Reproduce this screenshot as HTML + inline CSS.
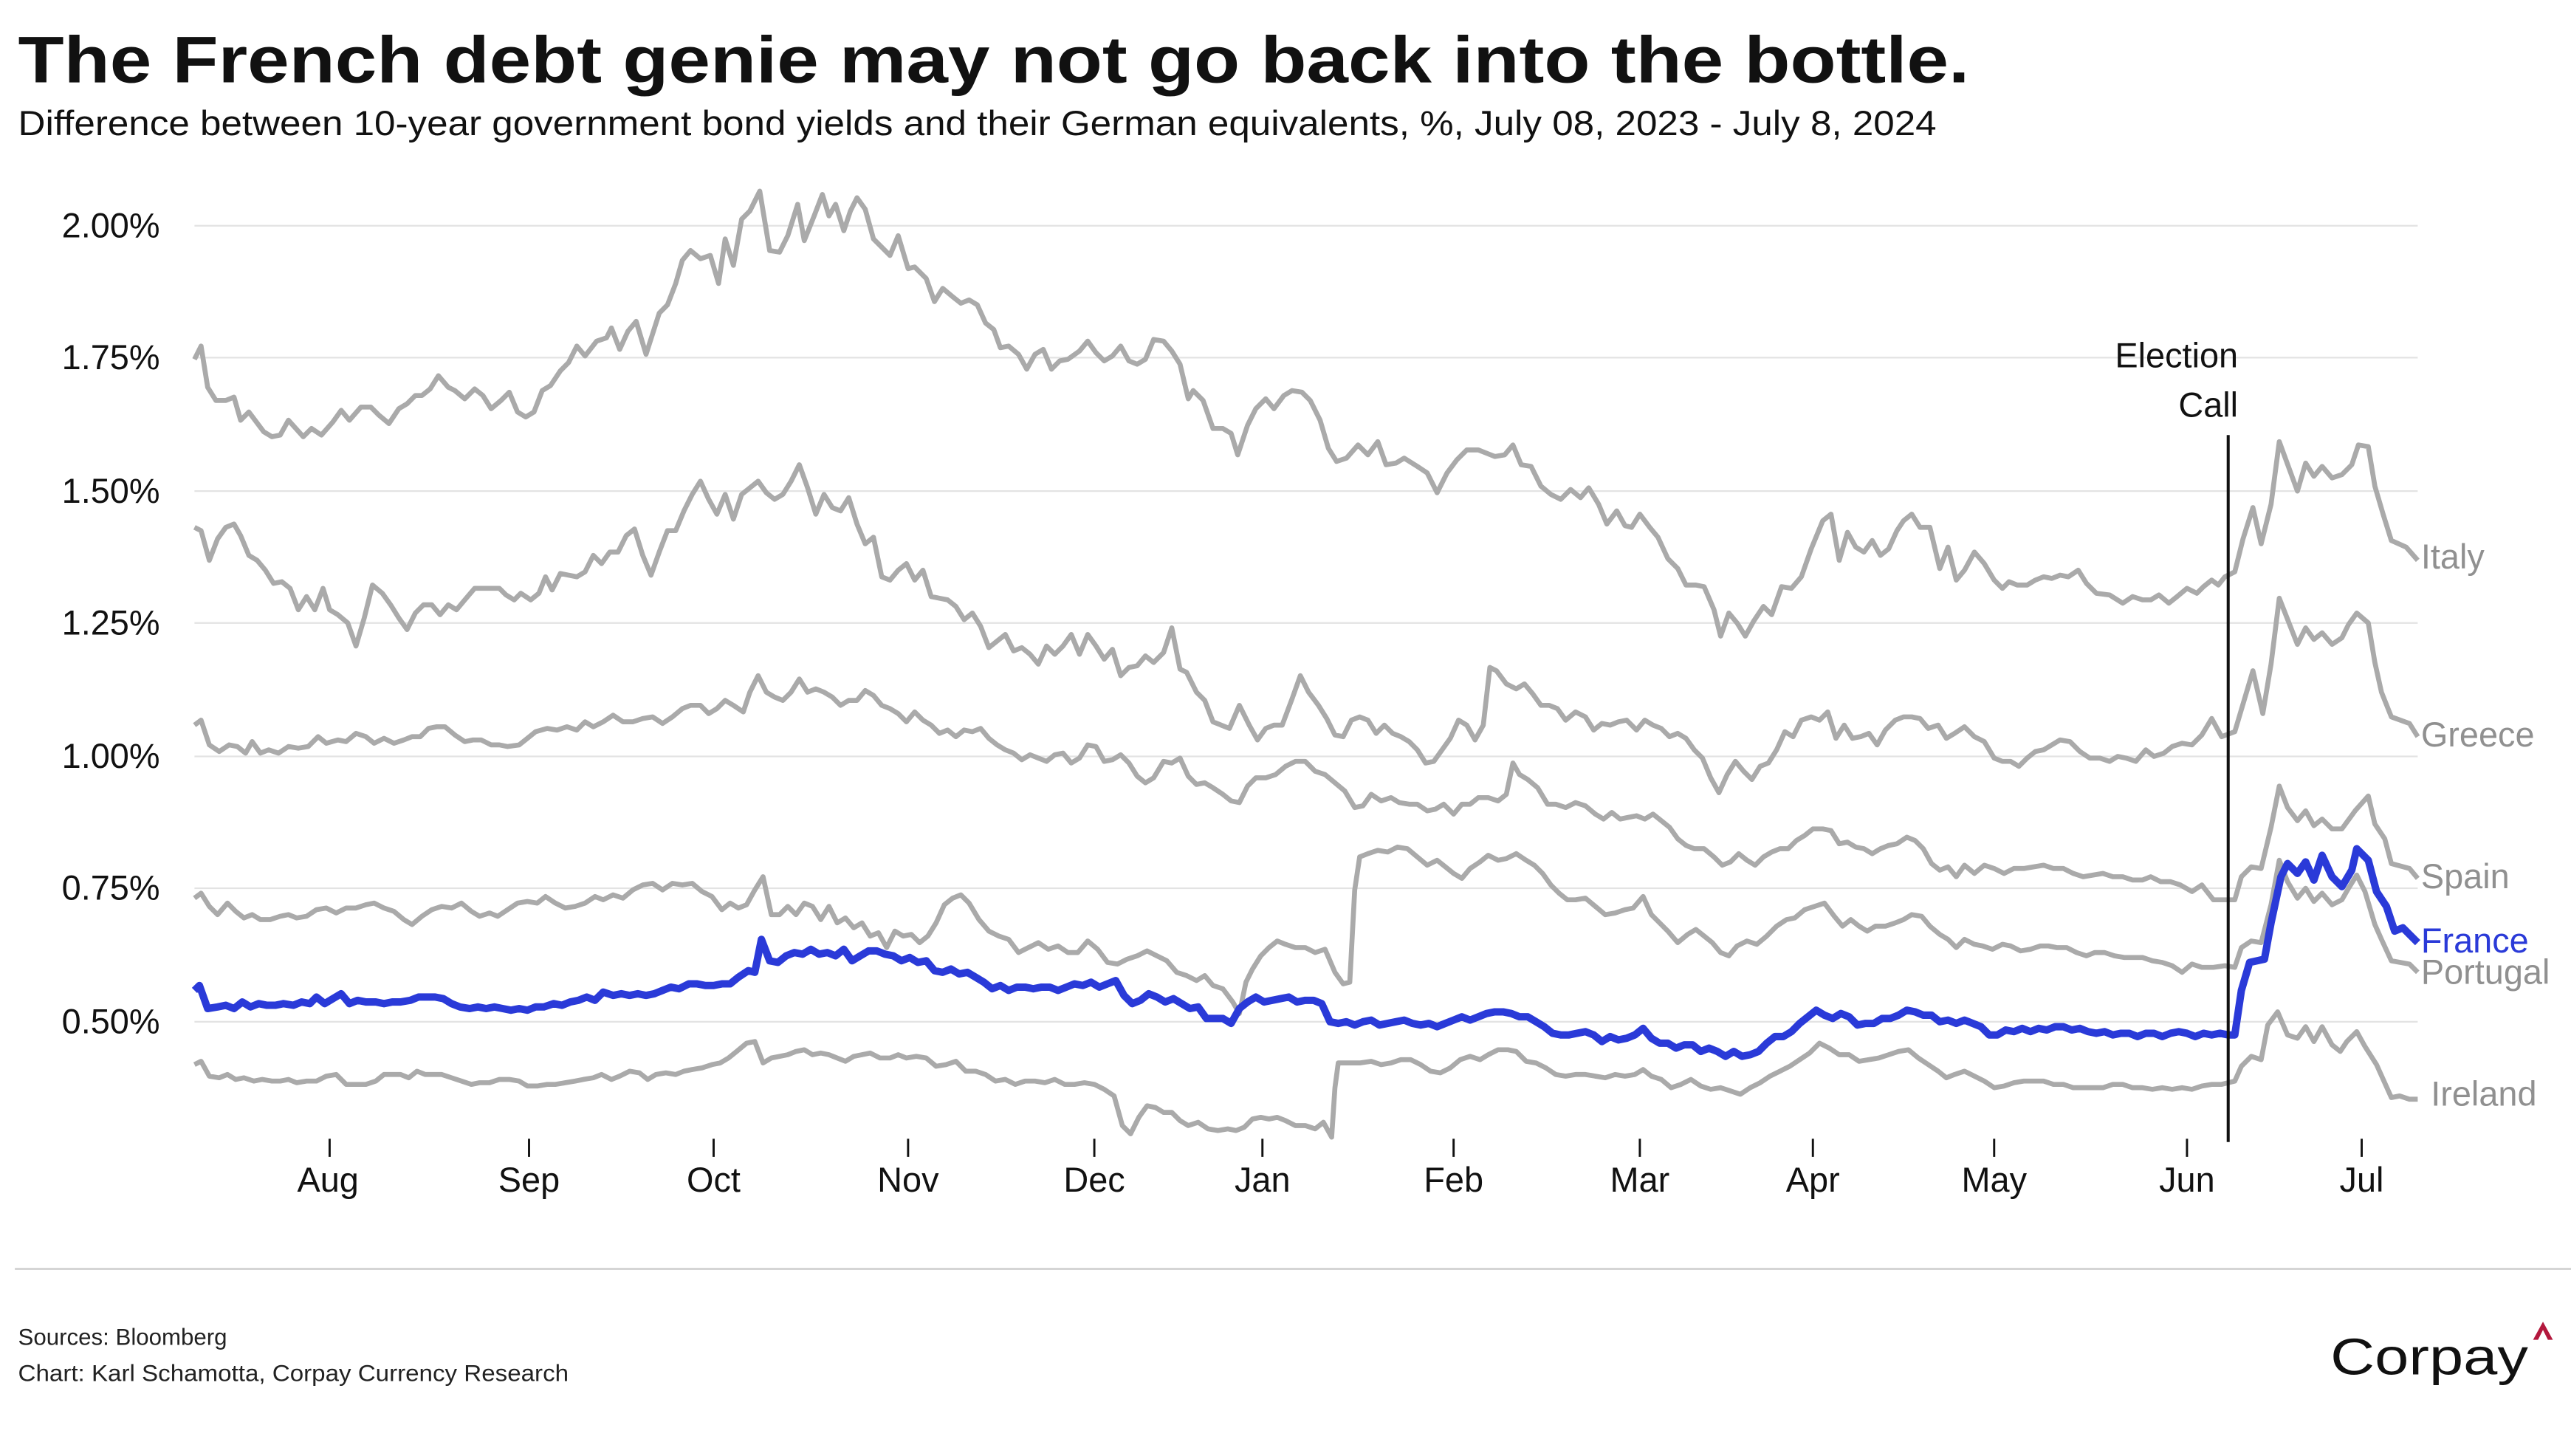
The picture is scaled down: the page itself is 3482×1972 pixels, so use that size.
<!DOCTYPE html>
<html><head><meta charset="utf-8"><style>
html,body{margin:0;padding:0;background:#fff}
svg{display:block}
text{font-family:"Liberation Sans",sans-serif}
</style></head><body>
<svg width="3482" height="1972" viewBox="0 0 1560 883.5" xmlns="http://www.w3.org/2000/svg">
<rect width="1560" height="883.5" fill="#fff"/>
<text x="11" y="50" font-size="40" font-weight="bold" fill="#111" textLength="1184" lengthAdjust="spacingAndGlyphs">The French debt genie may not go back into the bottle.</text>
<text x="11" y="82" font-size="21" fill="#111" textLength="1164" lengthAdjust="spacingAndGlyphs">Difference between 10-year government bond yields and their German equivalents, %, July 08, 2023 - July 8, 2024</text>
<g stroke="#e3e3e3" stroke-width="1">
<line x1="118" x2="1467" y1="137" y2="137"/><line x1="118" x2="1467" y1="217" y2="217"/><line x1="118" x2="1467" y1="298" y2="298"/><line x1="118" x2="1467" y1="378" y2="378"/><line x1="118" x2="1467" y1="459" y2="459"/><line x1="118" x2="1467" y1="539" y2="539"/><line x1="118" x2="1467" y1="620" y2="620"/>
</g>
<g font-size="21" fill="#111" text-anchor="end">
<text x="97" y="144">2.00%</text><text x="97" y="224">1.75%</text><text x="97" y="305">1.50%</text><text x="97" y="385">1.25%</text><text x="97" y="466">1.00%</text><text x="97" y="546">0.75%</text><text x="97" y="627">0.50%</text>
</g>
<g stroke="#111" stroke-width="1.3">
<line x1="200" x2="200" y1="691" y2="702"/><line x1="321" x2="321" y1="691" y2="702"/><line x1="433" x2="433" y1="691" y2="702"/><line x1="551" x2="551" y1="691" y2="702"/><line x1="664" x2="664" y1="691" y2="702"/><line x1="766" x2="766" y1="691" y2="702"/><line x1="882" x2="882" y1="691" y2="702"/><line x1="995" x2="995" y1="691" y2="702"/><line x1="1100" x2="1100" y1="691" y2="702"/><line x1="1210" x2="1210" y1="691" y2="702"/><line x1="1327" x2="1327" y1="691" y2="702"/><line x1="1433" x2="1433" y1="691" y2="702"/>
</g>
<g font-size="21" fill="#111" text-anchor="middle">
<text x="199" y="723">Aug</text><text x="321" y="723">Sep</text><text x="433" y="723">Oct</text><text x="551" y="723">Nov</text><text x="664" y="723">Dec</text><text x="766" y="723">Jan</text><text x="882" y="723">Feb</text><text x="995" y="723">Mar</text><text x="1100" y="723">Apr</text><text x="1210" y="723">May</text><text x="1327" y="723">Jun</text><text x="1433" y="723">Jul</text>
</g>
<g fill="none" stroke="#aaaaaa" stroke-width="3" stroke-linejoin="round">
<polyline points="118,218 122,210 126,235 131,243 137,243 142,241 146,255 151,250 160,262 165,265 170,264 175,255 184,265 189,260 195,264 202,256 207,249 212,255 219,247 225,247 230,252 236,257 242,248 247,245 252,240 256,240 261,236 266,228 272,235 276,237 282,242 288,236 293,240 298,248 304,243 309,238 314,250 319,253 324,250 329,237 334,234 340,225 345,220 350,210 355,216 362,207 368,205 371,199 376,212 381,201 386,195 392,215 400,190 405,185 410,172 414,158 419,152 425,157 431,155 436,172 440,145 445,161 450,133 455,128 461,116 467,152 473,153 478,143 484,124 488,146 494,131 499,118 503,131 507,124 512,140 516,128 520,120 525,127 530,145 535,150 540,155 545,143 551,163 555,162 562,169 567,183 572,175 578,180 583,184 588,182 593,185 598,196 603,200 607,211 612,210 618,215 623,224 628,215 633,212 638,224 643,219 648,218 655,213 660,207 665,214 670,219 675,216 680,210 685,219 690,221 695,218 700,206 706,207 711,213 716,221 721,242 724,237 730,243 736,260 742,260 747,263 751,276 757,258 762,248 768,242 773,248 779,240 784,237 790,238 795,243 801,255 806,272 811,280 817,278 824,270 830,276 836,268 841,282 847,281 852,278 860,283 866,287 872,299 878,287 884,279 890,273 897,273 902,275 907,277 913,276 918,270 923,282 929,283 935,295 941,300 947,303 953,297 959,302 964,296 970,306 975,318 981,310 986,319 990,320 995,312 1001,320 1006,326 1012,339 1018,345 1023,355 1029,355 1034,356 1040,370 1044,386 1049,372 1054,378 1059,386 1064,377 1070,368 1075,373 1081,356 1087,357 1093,350 1099,333 1106,316 1111,312 1116,340 1121,323 1126,332 1131,335 1136,328 1141,337 1146,333 1151,322 1155,316 1160,312 1165,320 1171,320 1177,345 1182,332 1187,352 1192,346 1198,335 1204,342 1210,352 1215,357 1219,353 1224,355 1230,355 1235,352 1240,350 1245,351 1250,349 1255,350 1261,346 1266,354 1272,360 1280,361 1288,366 1294,362 1300,364 1305,364 1310,361 1316,366 1321,362 1327,357 1333,360 1337,356 1342,352 1346,355 1350,350 1356,347 1361,327 1367,308 1372,330 1378,306 1383,268 1394,298 1399,281 1404,289 1409,283 1415,290 1421,288 1427,282 1431,270 1437,271 1441,295 1446,312 1451,328 1460,332 1467,340"/>
<polyline points="118,320 122,322 127,340 132,327 137,320 142,318 146,325 151,337 156,340 161,346 166,354 171,353 176,357 181,370 186,362 191,370 196,357 200,370 205,373 211,378 216,392 221,375 226,355 232,360 237,367 242,375 247,382 252,372 257,367 262,367 267,373 272,367 277,370 282,364 288,357 293,357 298,357 303,357 307,361 312,364 316,360 322,364 327,360 331,350 335,358 340,348 345,349 350,350 355,347 360,337 365,342 370,335 375,335 380,325 385,321 390,337 395,349 400,335 405,322 410,322 415,310 420,300 425,292 430,303 435,312 440,300 445,315 450,300 455,296 460,292 465,299 470,303 475,300 480,292 485,282 490,296 495,312 500,300 505,308 510,310 515,302 520,318 525,330 530,326 535,350 540,352 545,346 550,342 555,352 560,346 565,362 570,363 575,364 580,368 585,376 590,372 595,380 600,393 605,389 610,385 615,395 620,393 625,397 630,403 635,392 640,397 645,392 650,385 655,397 660,385 665,392 670,400 675,394 680,410 685,405 690,404 695,398 700,402 706,396 711,381 716,406 720,408 726,420 731,425 736,438 741,440 746,442 752,428 758,440 763,449 768,442 773,440 778,440 784,424 789,410 794,420 800,428 805,436 810,446 815,447 820,437 825,435 830,437 835,445 840,440 845,445 850,447 855,450 860,455 865,463 870,462 875,455 880,448 885,437 890,440 895,449 900,440 904,405 908,407 914,415 920,418 925,415 930,421 935,428 940,428 945,430 950,437 956,432 962,435 967,443 972,439 977,440 982,438 987,437 993,443 998,437 1003,440 1008,442 1013,447 1018,445 1023,448 1028,455 1033,460 1038,472 1043,481 1048,470 1053,462 1058,468 1063,473 1068,465 1073,463 1078,455 1083,444 1088,447 1093,437 1099,435 1104,437 1109,432 1114,448 1119,440 1124,448 1129,447 1134,445 1139,452 1144,443 1150,437 1155,435 1160,435 1165,436 1170,442 1176,440 1181,448 1186,445 1192,441 1198,447 1204,450 1210,460 1215,462 1220,462 1225,465 1230,460 1235,456 1240,455 1245,452 1250,449 1256,450 1262,456 1268,460 1274,460 1280,462 1285,459 1290,460 1296,462 1302,455 1307,459 1313,457 1318,453 1324,451 1330,452 1336,446 1342,436 1348,447 1356,444 1367,407 1373,433 1378,403 1383,363 1394,391 1399,381 1404,388 1409,384 1415,391 1421,387 1425,379 1430,372 1437,378 1441,402 1445,420 1451,435 1462,439 1467,447"/>
<polyline points="118,440 122,437 127,452 133,456 139,452 144,453 149,457 153,450 158,457 163,455 169,457 175,453 181,454 187,453 193,447 198,451 205,449 210,450 216,445 222,447 227,451 233,448 239,451 245,449 250,447 255,447 260,442 265,441 270,441 276,446 282,450 287,449 292,449 298,452 303,452 308,453 315,452 320,448 325,444 332,442 338,443 344,441 350,443 355,438 360,441 366,438 372,434 378,438 384,438 390,436 396,435 402,439 408,435 414,430 419,428 425,428 430,433 435,430 440,425 445,428 451,432 455,420 460,410 465,420 470,423 475,425 480,420 485,412 490,420 495,418 500,420 505,423 510,428 515,425 520,425 525,419 530,422 535,428 540,430 545,433 550,438 555,432 560,437 565,440 570,445 575,443 580,447 585,443 590,444 595,442 600,448 605,452 610,455 615,457 620,461 625,458 630,460 635,462 640,458 645,457 650,463 655,460 660,452 665,453 670,462 675,461 680,458 685,463 690,471 695,475 700,472 706,462 711,463 716,460 721,471 726,476 731,475 736,478 742,482 747,486 752,487 757,477 762,472 768,472 774,470 780,465 786,462 792,462 798,468 804,470 810,475 816,480 822,490 827,489 832,482 838,486 844,484 849,487 855,488 860,488 866,492 871,491 876,488 882,494 887,488 892,488 897,484 903,484 909,486 914,482 918,463 922,470 927,473 933,478 939,488 944,488 950,490 956,487 962,489 968,494 973,497 978,493 983,497 988,496 993,495 998,497 1003,494 1008,498 1013,502 1018,509 1023,513 1028,515 1034,515 1040,520 1045,525 1050,523 1055,518 1060,522 1065,525 1070,520 1075,517 1080,515 1085,515 1090,510 1095,507 1100,503 1106,503 1111,504 1116,512 1121,511 1126,514 1131,515 1136,518 1141,515 1146,513 1151,512 1157,508 1162,510 1167,515 1172,524 1177,528 1182,526 1187,532 1192,525 1198,530 1204,525 1210,527 1216,530 1222,527 1228,527 1234,526 1240,525 1246,527 1252,527 1258,530 1264,532 1270,531 1276,530 1282,532 1288,532 1294,534 1300,534 1305,532 1311,535 1317,535 1323,537 1330,541 1336,537 1343,546 1350,546 1356,546 1360,532 1366,526 1372,527 1378,502 1383,477 1388,490 1394,498 1399,492 1404,501 1409,497 1415,503 1421,503 1429,492 1437,483 1441,500 1447,509 1451,524 1462,527 1467,533"/>
<polyline points="118,545 122,542 127,550 132,555 138,548 143,553 148,557 153,555 158,558 164,558 170,556 175,555 180,557 186,556 192,552 198,551 204,554 210,551 216,551 222,549 227,548 233,551 239,553 245,558 250,561 256,556 262,552 268,550 274,551 280,548 286,553 291,556 297,554 302,556 308,552 314,548 320,547 326,548 331,544 337,548 343,551 349,550 355,548 361,544 366,546 372,543 378,545 384,540 390,537 396,536 402,540 408,536 414,537 420,536 426,541 432,544 438,552 443,548 448,551 453,549 458,540 463,532 468,555 473,555 478,550 483,555 488,548 493,550 498,558 503,550 508,560 513,557 518,563 523,560 528,568 533,566 538,575 543,565 548,568 553,567 558,572 563,568 568,560 573,549 578,545 583,543 588,548 594,558 600,565 606,568 612,570 618,578 624,575 630,572 636,576 642,574 648,578 654,578 660,571 666,576 672,584 678,585 684,582 690,580 696,577 702,580 708,583 714,590 720,592 726,595 731,592 736,598 742,600 748,608 752,615 756,596 760,588 765,580 770,575 775,571 780,573 786,575 792,575 798,578 804,576 810,590 815,597 819,596 822,540 825,520 830,518 836,516 842,517 848,514 854,515 860,520 866,525 872,522 877,526 882,530 887,533 892,527 898,523 903,519 909,522 914,521 920,518 926,522 931,525 936,530 941,537 946,542 951,546 956,546 962,545 968,550 974,555 980,554 986,552 991,551 997,544 1002,555 1007,560 1012,565 1018,572 1024,567 1029,564 1034,568 1039,572 1044,578 1049,580 1054,574 1060,571 1066,573 1072,568 1078,562 1084,558 1089,557 1095,552 1101,550 1107,548 1113,556 1118,562 1123,558 1128,562 1133,565 1138,562 1144,562 1150,560 1155,558 1160,555 1166,556 1171,562 1177,567 1182,570 1187,575 1192,570 1198,573 1203,574 1209,576 1215,573 1220,574 1226,577 1232,576 1238,574 1243,574 1248,575 1254,575 1260,578 1266,580 1271,578 1277,578 1283,580 1289,581 1295,581 1300,581 1306,583 1312,584 1318,586 1324,590 1330,585 1336,587 1343,587 1350,586 1356,587 1360,575 1366,571 1372,572 1378,549 1383,522 1388,535 1394,545 1399,539 1404,547 1409,542 1415,549 1421,546 1425,539 1430,531 1435,541 1441,561 1445,570 1451,583 1462,585 1467,590"/>
<polyline points="118,646 122,644 127,653 133,654 138,652 143,655 148,654 154,656 159,655 165,656 170,656 175,655 180,657 186,656 192,656 198,653 204,652 210,658 216,658 222,658 228,656 233,652 238,652 243,652 248,654 253,650 258,652 263,652 268,652 274,654 280,656 286,658 291,657 297,657 303,655 309,655 315,656 320,659 326,659 332,658 337,658 343,657 349,656 354,655 360,654 365,652 371,655 376,653 382,650 388,651 393,655 398,652 404,651 410,652 415,650 420,649 426,648 432,646 437,645 442,642 447,638 453,633 458,632 463,645 468,642 473,641 478,640 483,638 488,637 493,640 498,639 503,640 508,642 513,644 518,641 523,640 528,639 534,642 540,642 545,640 550,642 556,641 562,642 568,647 574,646 580,644 586,650 592,650 598,652 604,656 610,655 616,658 622,656 628,656 634,657 640,655 646,658 652,658 658,657 664,658 670,661 676,665 681,683 686,688 691,678 696,671 701,672 706,675 711,675 716,680 721,683 727,681 733,685 739,686 745,685 750,686 755,684 760,679 765,678 770,679 775,678 780,680 786,683 792,683 798,685 803,681 808,690 810,660 812,645 818,645 825,645 832,644 838,646 844,645 850,643 856,643 862,646 868,650 874,651 880,648 886,643 892,641 898,643 903,640 909,637 915,637 920,638 926,644 932,645 938,648 944,652 950,653 956,652 962,652 968,653 974,654 980,652 986,653 992,652 997,649 1002,653 1008,655 1014,660 1020,658 1026,655 1032,659 1038,661 1044,660 1050,662 1056,664 1062,660 1068,657 1074,653 1080,650 1086,647 1092,643 1098,639 1104,633 1110,636 1116,640 1122,640 1128,644 1134,643 1140,642 1146,640 1152,638 1158,637 1164,642 1170,646 1176,650 1181,654 1186,652 1192,650 1198,653 1204,656 1210,660 1216,659 1222,657 1228,656 1234,656 1240,656 1246,658 1252,658 1258,660 1264,660 1270,660 1276,660 1282,658 1288,658 1294,660 1300,660 1306,661 1312,660 1318,661 1324,660 1330,661 1336,659 1342,658 1348,658 1356,656 1360,647 1366,641 1372,643 1376,622 1382,614 1388,628 1394,630 1399,623 1404,632 1409,623 1415,634 1420,638 1424,632 1430,626 1435,635 1442,646 1451,666 1456,665 1462,667 1467,667"/>
</g>
<polyline fill="none" stroke="#2a3ad8" stroke-width="4.5" stroke-linejoin="round" points="118,601 121,598 126,612 132,611 137,610 142,612 147,608 152,611 157,609 162,610 167,610 172,609 178,610 183,608 188,609 192,605 197,609 202,606 207,603 212,609 217,607 222,608 228,608 233,609 238,608 243,608 249,607 254,605 259,605 264,605 269,606 274,609 279,611 285,612 290,611 295,612 300,611 305,612 310,613 315,612 320,613 325,611 330,611 336,609 341,610 346,608 351,607 356,605 361,607 366,602 372,604 377,603 382,604 387,603 392,604 397,603 402,601 407,599 412,600 418,597 423,597 428,598 433,598 438,597 443,597 448,593 454,589 458,590 462,570 467,583 472,584 477,580 482,578 487,579 492,576 497,579 502,578 507,580 512,576 517,583 522,580 527,577 532,577 537,579 542,580 547,583 552,581 557,584 562,583 567,589 572,590 577,588 582,591 587,590 592,593 597,596 602,600 607,598 612,601 617,599 622,599 627,600 632,599 637,599 642,601 647,599 652,597 657,598 662,596 667,599 672,597 677,595 682,604 687,609 692,607 697,603 702,605 707,608 712,606 717,609 722,612 727,611 732,618 737,618 742,618 747,621 752,612 757,608 762,605 767,608 772,607 777,606 782,605 787,608 792,607 797,607 802,609 807,620 812,621 817,620 822,622 827,620 832,619 837,622 842,621 847,620 852,619 857,621 862,622 867,621 872,623 877,621 882,619 887,617 892,619 897,617 902,615 907,614 912,614 917,615 922,617 927,617 932,620 937,623 942,627 947,628 952,628 957,627 962,626 967,628 972,632 977,629 982,631 987,630 992,628 997,624 1002,630 1007,633 1012,633 1017,636 1022,634 1027,634 1032,638 1037,636 1042,638 1047,641 1052,638 1057,641 1062,640 1067,638 1072,633 1077,629 1082,629 1087,626 1092,621 1097,617 1102,613 1107,616 1112,618 1117,615 1122,617 1127,622 1132,621 1137,621 1142,618 1147,618 1152,616 1157,613 1162,614 1167,616 1172,616 1177,620 1182,619 1187,621 1192,619 1197,621 1202,623 1207,628 1212,628 1217,625 1222,626 1227,624 1232,626 1237,624 1242,625 1247,623 1252,623 1257,625 1262,624 1267,626 1272,627 1277,626 1282,628 1287,627 1292,627 1297,629 1302,627 1307,627 1312,629 1317,627 1322,626 1327,627 1332,629 1337,627 1342,628 1347,627 1352,628 1356,628 1360,601 1365,584 1374,582 1378,560 1384,532 1388,524 1394,530 1399,523 1404,534 1409,519 1415,532 1421,538 1427,528 1430,515 1437,522 1442,541 1448,550 1453,565 1458,563 1467,572"/>
<line x1="1352" x2="1352" y1="264" y2="693" stroke="#111" stroke-width="1.8"/>
<text x="1358" y="223" font-size="21" fill="#111" text-anchor="end">Election</text>
<text x="1358" y="253" font-size="21" fill="#111" text-anchor="end">Call</text>
<g font-size="21" fill="#909090">
<text x="1469" y="345">Italy</text>
<text x="1469" y="453">Greece</text>
<text x="1469" y="539">Spain</text>
<text x="1469" y="597">Portugal</text>
<text x="1475" y="671">Ireland</text>
</g>
<text x="1469" y="578" font-size="21" fill="#2a3ad8">France</text>
<line x1="9" x2="1560" y1="770" y2="770" stroke="#c8c8c8" stroke-width="1"/>
<text x="11" y="816" font-size="14" fill="#222">Sources: Bloomberg</text>
<text x="11" y="838" font-size="14" fill="#222" textLength="334" lengthAdjust="spacingAndGlyphs">Chart: Karl Schamotta, Corpay Currency Research</text>
<text x="1414" y="834" font-size="31" fill="#111" textLength="120" lengthAdjust="spacingAndGlyphs">Corpay</text>
<polygon points="1537,813 1543,802 1549,813 1546,813 1543,807 1540,813" fill="#b3183d"/>
</svg>
</body></html>
